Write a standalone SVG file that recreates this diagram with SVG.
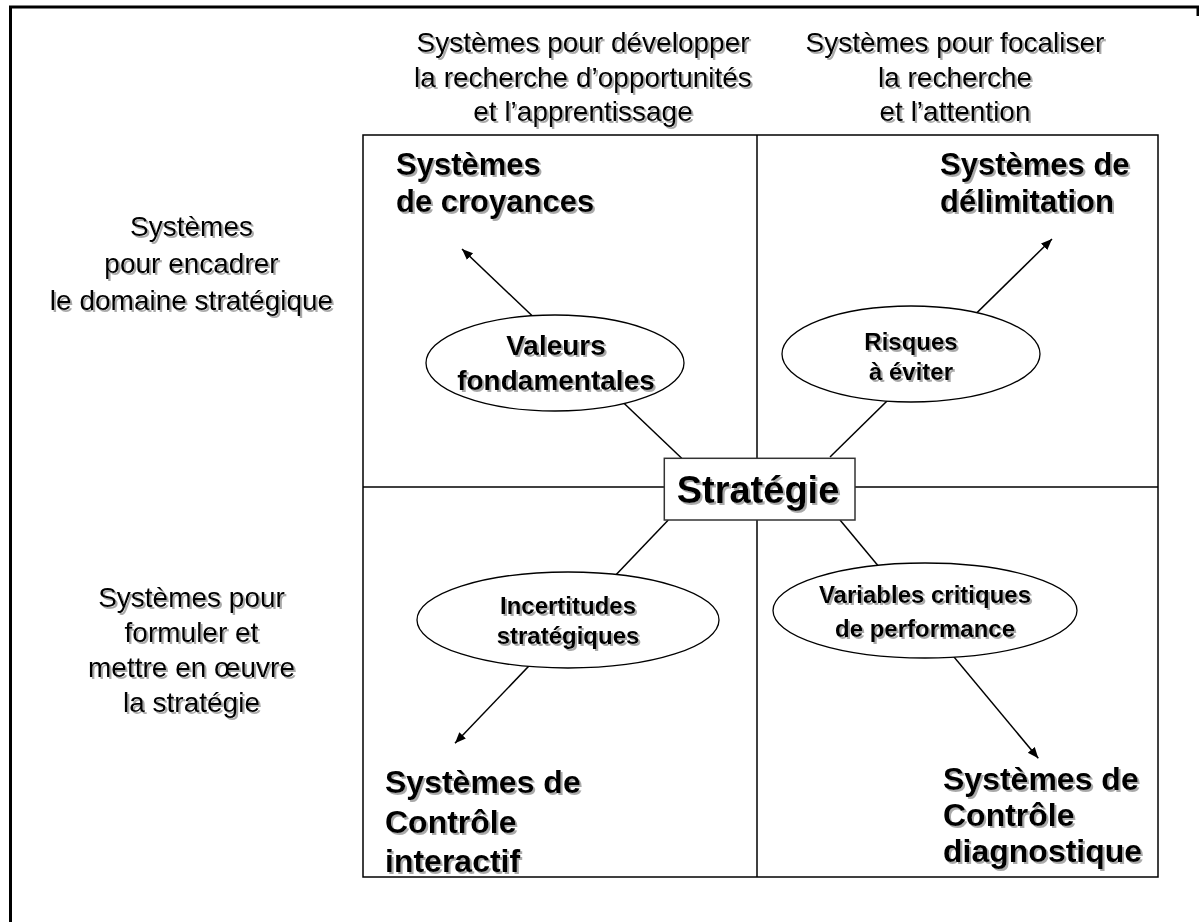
<svg xmlns="http://www.w3.org/2000/svg" width="1199" height="922" viewBox="0 0 1199 922">
  <defs>
    <filter id="sh" x="-10%" y="-20%" width="120%" height="150%">
      <feDropShadow dx="2" dy="2" stdDeviation="0.7" flood-color="#8c8c8c" flood-opacity="0.75"/>
    </filter>
    <marker id="arr" markerUnits="userSpaceOnUse" markerWidth="12" markerHeight="10" refX="11" refY="4.5" orient="auto">
      <path d="M0,0 L11,4.5 L0,9 Z" fill="#000"/>
    </marker>
    <style>
      .lbl { font-family: "Liberation Sans", Arial, sans-serif; font-size: 28px; fill: #000; filter: url(#sh); }
      .hd { font-family: "Liberation Sans", Arial, sans-serif; font-weight: bold; font-size: 31px; fill: #000; filter: url(#sh); }
      .hd2 { font-family: "Liberation Sans", Arial, sans-serif; font-weight: bold; font-size: 32px; fill: #000; filter: url(#sh); }
      .el { fill: #fff; stroke: #000; stroke-width: 1.3; }
      .et { font-family: "Liberation Sans", Arial, sans-serif; font-weight: bold; font-size: 24px; fill: #000; text-anchor: middle; filter: url(#sh); }
      .ln { stroke: #000; stroke-width: 1.5; fill: none; }
      .cn { stroke: #000; stroke-width: 1.5; fill: none; }
    </style>
  </defs>
  <rect width="1199" height="922" fill="#fff"/>

  <g id="frame">
    <path d="M10.5,922 V7 H1198 V16" fill="none" stroke="#000" stroke-width="3"/>
  </g>

  <g id="grid">
    <rect x="363" y="135" width="795" height="742" class="ln"/>
    <line x1="757" y1="135" x2="757" y2="877" class="ln"/>
    <line x1="363" y1="487" x2="1158" y2="487" class="ln"/>
  </g>

  <g id="connectors">
    <line x1="681.7" y1="458.3" x2="462" y2="249" class="cn" marker-end="url(#arr)"/>
    <line x1="830" y1="457" x2="1052" y2="239" class="cn" marker-end="url(#arr)"/>
    <line x1="668.3" y1="520" x2="455" y2="743.3" class="cn" marker-end="url(#arr)"/>
    <line x1="840" y1="520" x2="1038.3" y2="758.3" class="cn" marker-end="url(#arr)"/>
  </g>

  <g id="label-top-left" class="lbl" text-anchor="middle">
    <text x="583" y="52">Systèmes pour développer</text>
    <text x="583" y="87">la recherche d’opportunités</text>
    <text x="583" y="121">et l’apprentissage</text>
  </g>
  <g id="label-top-right" class="lbl" text-anchor="middle">
    <text x="955" y="52">Systèmes pour focaliser</text>
    <text x="955" y="87">la recherche</text>
    <text x="955" y="121">et l’attention</text>
  </g>
  <g id="label-left-top" class="lbl" text-anchor="middle">
    <text x="191.5" y="236">Systèmes</text>
    <text x="191.5" y="273">pour encadrer</text>
    <text x="191.5" y="310">le domaine stratégique</text>
  </g>
  <g id="label-left-bottom" class="lbl" text-anchor="middle">
    <text x="191.5" y="607">Systèmes pour</text>
    <text x="191.5" y="642">formuler et</text>
    <text x="191.5" y="677">mettre en œuvre</text>
    <text x="191.5" y="712">la stratégie</text>
  </g>

  <g id="node-croyances" class="hd">
    <text x="396" y="175">Systèmes</text>
    <text x="396" y="212">de croyances</text>
  </g>
  <g id="node-delimitation" class="hd">
    <text x="940" y="175">Systèmes de</text>
    <text x="940" y="212">délimitation</text>
  </g>
  <g id="node-interactif" class="hd2">
    <text x="385" y="793">Systèmes de</text>
    <text x="385" y="833">Contrôle</text>
    <text x="385" y="872">interactif</text>
  </g>
  <g id="node-diagnostique" class="hd2">
    <text x="943" y="790">Systèmes de</text>
    <text x="943" y="826">Contrôle</text>
    <text x="943" y="862">diagnostique</text>
  </g>

  <g id="node-valeurs">
    <ellipse cx="555" cy="363" rx="129" ry="48" class="el"/>
    <text x="556" y="355" class="et" style="font-size:28px">Valeurs</text>
    <text x="556" y="390" class="et" style="font-size:28px">fondamentales</text>
  </g>
  <g id="node-risques">
    <ellipse cx="911" cy="354" rx="129" ry="48" class="el"/>
    <text x="911" y="350" class="et">Risques</text>
    <text x="911" y="380" class="et">à éviter</text>
  </g>
  <g id="node-incertitudes">
    <ellipse cx="568" cy="620" rx="151" ry="48" class="el"/>
    <text x="568" y="614" class="et">Incertitudes</text>
    <text x="568" y="644" class="et">stratégiques</text>
  </g>
  <g id="node-variables">
    <ellipse cx="925" cy="610.5" rx="152" ry="47.5" class="el"/>
    <text x="925" y="603" class="et">Variables critiques</text>
    <text x="925" y="637" class="et">de performance</text>
  </g>

  <g id="node-strategie">
    <rect x="664.3" y="458.3" width="190.7" height="61.7" fill="#fff" stroke="#333" stroke-width="1.5"/>
    <text x="758" y="503" text-anchor="middle" style="font-family:'Liberation Sans', Arial, sans-serif;font-weight:bold;font-size:38px;filter:url(#sh)">Stratégie</text>
  </g>
</svg>
